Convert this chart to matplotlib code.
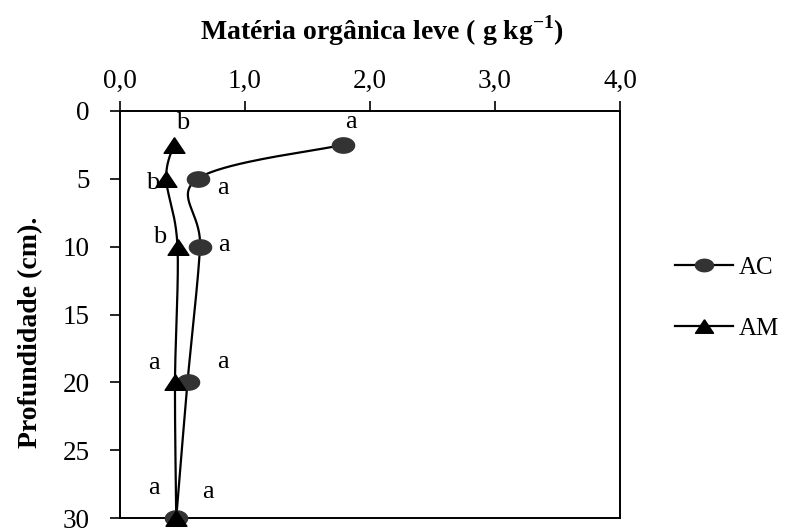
import numpy as np
import matplotlib
matplotlib.use("Agg")
import matplotlib.pyplot as plt
from matplotlib.lines import Line2D

# ---- data ----
depth = [2.5, 5, 10, 20, 30]
ac_values = [1.78, 0.62, 0.64, 0.54, 0.45]
am_values = [0.43, 0.37, 0.46, 0.44, 0.45]
ac_letters = ["a", "a", "a", "a", "a"]
am_letters = ["b", "b", "b", "a", "a"]
xticks = [0.0, 1.0, 2.0, 3.0, 4.0]
xtick_labels = ["0,0", "1,0", "2,0", "3,0", "4,0"]
yticks = [0, 5, 10, 15, 20, 25, 30]

# label offsets (x, y in data units) relative to the points
ac_lab_off = [(0.07, -1.7), (0.20, 0.7), (0.19, -0.1), (0.28, -1.5), (0.25, -1.9)]
am_lab_off = [(0.07, -1.6), (-0.11, 0.3), (-0.14, -0.7), (-0.17, -1.4), (-0.18, -2.2)]

plt.rcParams['font.family'] = ['Liberation Serif', 'DejaVu Serif']
plt.rcParams['mathtext.fontset'] = 'custom'
plt.rcParams['mathtext.rm'] = 'Liberation Serif'
plt.rcParams['mathtext.bf'] = 'Liberation Serif:bold'

def smooth(xs, ys, n=40):
    pts = np.column_stack([xs, ys]).astype(float)
    P = np.vstack([pts[0], pts, pts[-1]])
    out = []
    for i in range(1, len(P) - 2):
        p0, p1, p2, p3 = P[i - 1], P[i], P[i + 1], P[i + 2]
        c1 = p1 + (p2 - p0) / 6.0
        c2 = p2 - (p3 - p1) / 6.0
        t = np.linspace(0, 1, n)[:, None]
        seg = ((1 - t) ** 3) * p1 + 3 * ((1 - t) ** 2) * t * c1 + 3 * (1 - t) * t ** 2 * c2 + t ** 3 * p2
        out.append(seg if i == 1 else seg[1:])
    a = np.vstack(out)
    return a[:, 0], a[:, 1]

# custom markers
th = np.linspace(0, 2 * np.pi, 40)
ellipse = list(zip(1.45 * np.cos(th), np.sin(th)))
tri = [(0, 0.75), (-1, -0.75), (1, -0.75), (0, 0.75)]

fig = plt.figure(figsize=(7.91, 5.29), dpi=100)
ax = fig.add_axes([120 / 791, 1 - 518 / 529, 500 / 791, 407 / 529])

sx, sy = smooth(ac_values, depth)
ax.plot(sx, sy, color="black", lw=1.6, clip_on=False, zorder=2)
ax.plot(ac_values, depth, ls="none", marker=ellipse, ms=16, color="#333333", clip_on=False, zorder=3)
sx, sy = smooth(am_values, depth)
ax.plot(sx, sy, color="black", lw=1.6, clip_on=False, zorder=2)
ax.plot(am_values, depth, ls="none", marker=tri, ms=15, color="black", clip_on=False, zorder=4)

for v, d, lab, (ox, oy) in zip(ac_values, depth, ac_letters, ac_lab_off):
    ax.text(v + ox, d + oy, lab, fontsize=19, ha="center", va="center")
for v, d, lab, (ox, oy) in zip(am_values, depth, am_letters, am_lab_off):
    ax.text(v + ox, d + oy, lab, fontsize=19, ha="center", va="center")

ax.set_xlim(0, 4)
ax.set_ylim(30, 0)
ax.xaxis.tick_top()
ax.set_xticks(xticks)
ax.set_xticklabels(xtick_labels)
ax.set_yticks(yticks)
ax.tick_params(axis="x", top=True, bottom=False, direction="out", length=7, width=1.2, labelsize=19.5, pad=5)
ax.tick_params(axis="y", left=True, right=False, direction="out", length=7, width=1.2, labelsize=19.5, pad=15)
for s in ax.spines.values():
    s.set_linewidth(1.4)

fig.text(31 / 791, 1 - 332 / 529, "Profundidade (cm).", fontsize=20, fontweight="bold",
         rotation=90, ha="center", va="center")
fig.text(382 / 791, 1 - 31 / 529, "Matéria orgânica leve ( g kg$^{\\mathbf{-1}}$)",
         fontsize=20, fontweight="bold", ha="center", va="center")

handles = [
    Line2D([], [], color="black", lw=1.6, marker=ellipse, ms=13, markerfacecolor="#333333", markeredgecolor="#333333"),
    Line2D([], [], color="black", lw=1.6, marker=tri, ms=13, markerfacecolor="black"),
]
fig.legend(handles, ["AC", "AM"], loc="center left", bbox_to_anchor=(675 / 791, 1 - 298 / 529),
           frameon=False, fontsize=18, handlelength=2.3, handletextpad=0.25, labelspacing=1.55,
           borderaxespad=0, borderpad=0)

fig.savefig("out.png", dpi=100)
